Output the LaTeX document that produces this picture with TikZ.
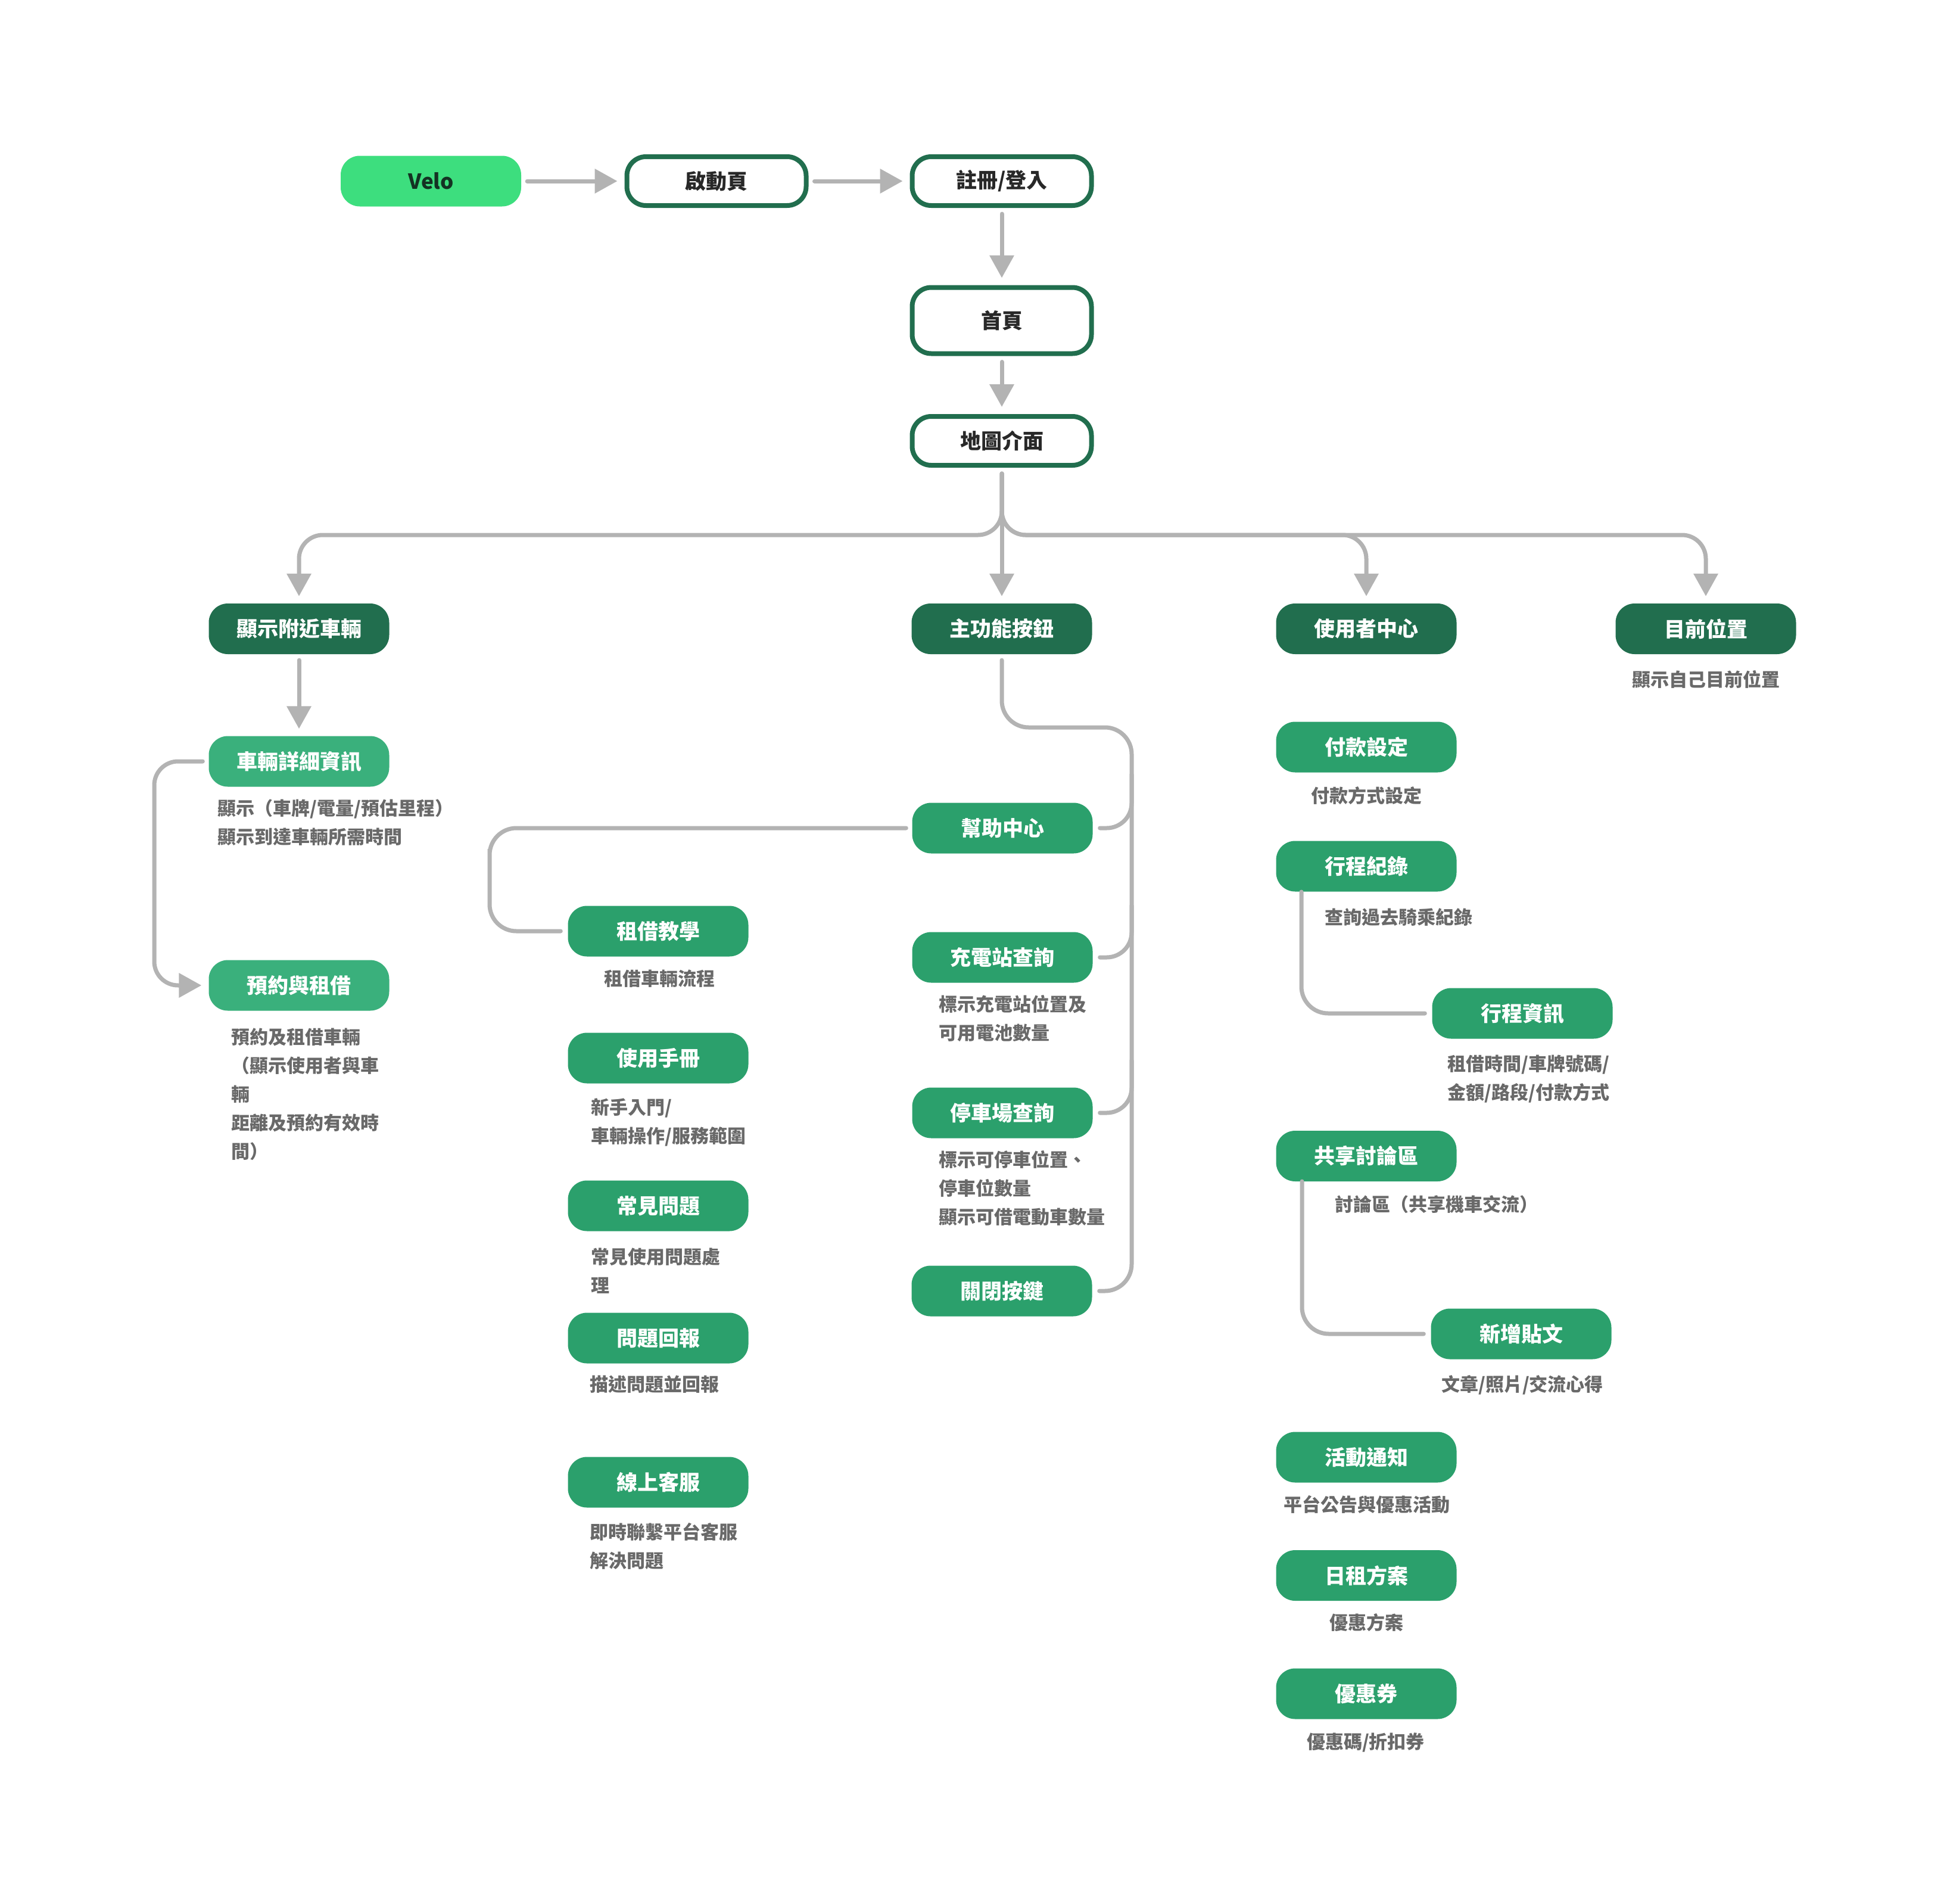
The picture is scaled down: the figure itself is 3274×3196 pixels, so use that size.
\documentclass[tikz,border=0pt]{standalone}
\usepackage{fontspec}
\setmainfont{Noto Sans CJK TC}
\usetikzlibrary{arrows.meta}
\definecolor{dkgreen}{RGB}{33,110,78}
\definecolor{mdgreen}{RGB}{43,160,108}
\definecolor{ltgreen}{RGB}{58,176,124}
\definecolor{velogreen}{RGB}{61,222,126}
\definecolor{velotext}{RGB}{20,50,35}
\definecolor{conngray}{RGB}{179,179,179}
\definecolor{descgray}{RGB}{105,105,105}
\definecolor{labeldark}{RGB}{40,40,40}
\begin{document}
\begin{tikzpicture}[x=1pt,y=-1pt,
  box/.style={rounded corners=32pt, minimum width=303pt, minimum height=85pt, inner sep=0pt,
    font=\fontsize{35}{42}\selectfont\bfseries, text=white},
  velobox/.style={box, fill=velogreen, text=velotext},
  outl/.style={box, draw=dkgreen, line width=8pt, fill=white, text=labeldark,
    minimum width=301pt, minimum height=82pt},
  dk/.style={box, fill=dkgreen},
  md/.style={box, fill=mdgreen},
  lt/.style={box, fill=ltgreen},
  desc/.style={text=descgray, font=\fontsize{31}{48}\selectfont\bfseries, inner sep=0pt, align=left},
  conn/.style={draw=conngray, line width=7pt, line cap=round, shorten <=10pt, shorten >=12pt},
  arrowed/.style={-{Triangle[length=38pt,width=40pt]}},
]
\fill[white] (0,0) rectangle (3274,3196);
\useasboundingbox (0,0) rectangle (3274,3196);

% top flow
\node[velobox] (velo) at (723.5,304) {Velo};
\node[outl] (splash) at (1203,304) {啟動頁};
\node[outl] (login) at (1682,304) {註冊/登入};
\node[outl, minimum height=111pt] (home) at (1682,538) {首頁};
\node[outl] (map) at (1682,740) {地圖介面};

% level 2
\node[dk] (near) at (502,1055.5) {顯示附近車輛};
\node[dk] (mainbtn) at (1682,1055.5) {主功能按鈕};
\node[dk] (user) at (2294,1055.5) {使用者中心};
\node[dk] (loc) at (2864,1055.5) {目前位置};
\node[desc] (locd) at (2864,1140) {顯示自己目前位置};

% left column
\node[lt] (detail) at (502,1278) {車輛詳細資訊};
\node[desc, anchor=west] (detaild) at (365,1381) {顯示（車牌/電量/預估里程）\\顯示到達車輛所需時間};
\node[lt] (reserve) at (502,1654) {預約與租借};
\node[desc, anchor=west] (reserved) at (388,1837) {預約及租借車輛\\（顯示使用者與車\\輛\\距離及預約有效時\\間）};

% main function column
\node[md] (help) at (1683,1390) {幫助中心};
\node[md] (charge) at (1683,1607) {充電站查詢};
\node[desc, anchor=west] (charged) at (1576,1709) {標示充電站位置及\\可用電池數量};
\node[md] (park) at (1683,1868) {停車場查詢};
\node[desc, anchor=west] (parkd) at (1576,1995) {標示可停車位置、\\停車位數量\\顯示可借電動車數量};
\node[md] (close) at (1682,2167) {關閉按鍵};

% help center column
\node[md] (rent) at (1105,1563) {租借教學};
\node[desc] (rentd) at (1107,1643) {租借車輛流程};
\node[md] (manual) at (1105,1776) {使用手冊};
\node[desc, anchor=west] (manuald) at (992,1884) {新手入門/\\車輛操作/服務範圍};
\node[md] (faq) at (1105,2024) {常見問題};
\node[desc, anchor=west] (faqd) at (992,2133) {常見使用問題處\\理};
\node[md] (report) at (1105,2246) {問題回報};
\node[desc, anchor=west] (reportd) at (990,2324) {描述問題並回報};
\node[md] (online) at (1105,2488) {線上客服};
\node[desc, anchor=west] (onlined) at (990,2595) {即時聯繫平台客服\\解決問題};

% user center column
\node[md] (pay) at (2294,1254) {付款設定};
\node[desc] (payd) at (2294,1336) {付款方式設定};
\node[md] (trip) at (2294,1454) {行程紀錄};
\node[desc, anchor=west] (tripd) at (2224,1540) {查詢過去騎乘紀錄};
\node[md] (tripinfo) at (2556,1701) {行程資訊};
\node[desc, anchor=west] (tripinfod) at (2430,1811) {租借時間/車牌號碼/\\金額/路段/付款方式};
\node[md] (forum) at (2294,1940.5) {共享討論區};
\node[desc, anchor=west] (forumd) at (2241,2022) {討論區（共享機車交流）};
\node[md] (post) at (2554,2239) {新增貼文};
\node[desc] (postd) at (2556,2325) {文章/照片/交流心得};
\node[md] (event) at (2294,2446) {活動通知};
\node[desc] (eventd) at (2295,2525) {平台公告與優惠活動};
\node[md] (daily) at (2294,2644.5) {日租方案};
\node[desc] (dailyd) at (2294,2724) {優惠方案};
\node[md] (coupon) at (2294,2843) {優惠券};
\node[desc] (couponsd) at (2293,2925) {優惠碼/折扣券};

% connectors: top
\draw[conn,arrowed] (velo.east) -- (splash.west);
\draw[conn,arrowed] (splash.east) -- (login.west);
\draw[conn,arrowed] (login.south) -- (home.north);
\draw[conn,arrowed] (home.south) -- (map.north);

% branching from map
\coordinate (bus) at (1682,898);
\draw[conn,arrowed,rounded corners=40pt] (map.south) -- (bus) -| (near.north);
\draw[conn,arrowed,rounded corners=40pt] (map.south) -- (bus) -| (user.north);
\draw[conn,arrowed,rounded corners=40pt] (map.south) -- (bus) -| (loc.north);
\draw[conn,arrowed] (map.south) -- (mainbtn.north);

% left column
\draw[conn,arrowed] (near.south) -- (detail.north);
\coordinate (lc) at (259,1460);
\draw[conn,arrowed,rounded corners=40pt] (detail.west) -| (lc) |- (reserve.west);

% main column
\coordinate (mA) at (1682,1221);
\coordinate (mB) at (1900,1221);
\coordinate (mC) at (1900,2167);
\draw[conn,rounded corners=45pt] (mainbtn.south) -- (mA) -- (mB) -- (mC) -- (close.east);
\coordinate (bH) at (1900,1300);
\coordinate (bC) at (1900,1520);
\coordinate (bP) at (1900,1780);
\draw[conn,shorten <=0pt,rounded corners=42pt] (bH) |- (help.east);
\draw[conn,shorten <=0pt,rounded corners=42pt] (bC) |- (charge.east);
\draw[conn,shorten <=0pt,rounded corners=42pt] (bP) |- (park.east);

% help branch
\coordinate (hc) at (822,1470);
\draw[conn,rounded corners=45pt] (help.west) -| (hc) |- (rent.west);

% user center
\coordinate (tA) at (2185,1497);
\draw[conn,shorten <=0pt,rounded corners=45pt] (tA) |- (tripinfo.west);
\coordinate (fA) at (2186,1983);
\draw[conn,shorten <=0pt,rounded corners=45pt] (fA) |- (post.west);
\end{tikzpicture}
\end{document}
